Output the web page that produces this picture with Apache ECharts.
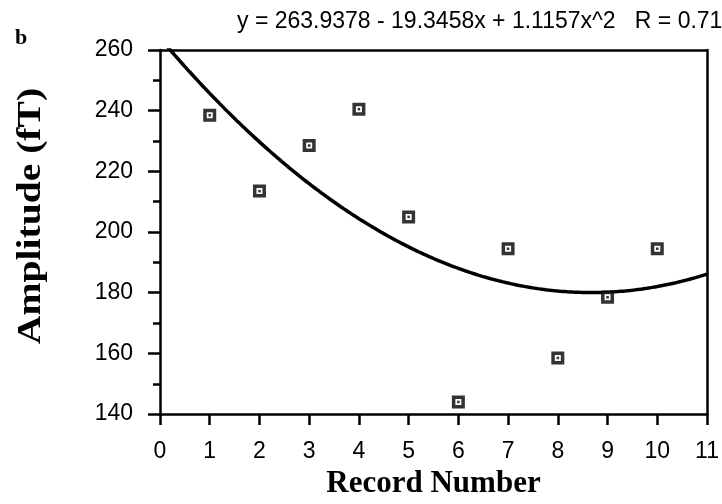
<!DOCTYPE html>
<html>
<head>
<meta charset="utf-8">
<script src="https://cdn.jsdelivr.net/npm/echarts@6/dist/echarts.min.js"></script>
<style>
  html, body { margin: 0; padding: 0; background: #fff; width: 100%; height: 100%; overflow: hidden; }
  #chart { width: 100vw; height: 100vh; }
</style>
</head>
<body>
<div id="chart"></div>
<script>
// Record numbers and measured amplitudes (fT)
const recordNumbers = [1, 2, 3, 4, 5, 6, 7, 8, 9, 10];
const amplitudes = [238.5, 213.5, 228.5, 240.5, 205, 144, 194.5, 158.5, 178.5, 194.5];

// Quadratic fit coefficients (c0 + c1*x + c2*x^2) and correlation
const fitCoefficients = [263.9378, -19.3458, 1.1157];
const fitR = 0.71;

// Axis settings
const xTicks = [0, 1, 2, 3, 4, 5, 6, 7, 8, 9, 10, 11];
const yTicks = [140, 160, 180, 200, 220, 240, 260];

const [c0, c1, c2] = fitCoefficients;
const fitLabel = 'y = ' + c0.toFixed(4) + ' - ' + Math.abs(c1).toFixed(4) + 'x + ' +
  c2.toFixed(4) + 'x^2   R = ' + fitR.toFixed(2);

// Sample the fitted curve across the x range
const fitCurve = [];
const xMin = xTicks[0], xMax = xTicks[xTicks.length - 1];
for (let i = 0; i <= 220; i++) {
  const x = xMin + (xMax - xMin) * i / 220;
  fitCurve.push([x, c0 + c1 * x + c2 * x * x]);
}

const points = recordNumbers.map((r, i) => [r, amplitudes[i]]);

const sans = 'Liberation Sans';
const serif = 'Liberation Serif';
const ink = '#000';

const chart = echarts.init(document.getElementById('chart'), null, { renderer: 'canvas' });
// layout is laid out on a 722 x 504 frame and scaled to the actual canvas
const W = chart.getWidth(), H = chart.getHeight();
const sx = v => v * W / 722;
const sy = v => v * H / 504;

chart.setOption({
  animation: false,
  backgroundColor: '#fff',
  title: [
    {
      text: fitLabel, left: sx(232), top: sy(5),
      textStyle: { fontFamily: sans, fontSize: 23, fontWeight: 'normal', color: ink }
    },
    {
      text: 'b', left: sx(10), top: sy(22),
      textStyle: { fontFamily: serif, fontSize: 22, fontWeight: 'bold', color: ink }
    }
  ],
  graphic: [
    {
      type: 'text', x: sx(31), y: sy(216), rotation: Math.PI / 2, scaleX: 1.2,
      style: {
        text: 'Amplitude (fT)', fill: ink, align: 'center', verticalAlign: 'middle',
        font: 'bold 33px "Liberation Serif"'
      }
    }
  ],
  grid: { left: sx(160), right: sx(15), top: sy(50), bottom: sy(83), containLabel: false },
  xAxis: [
    {
      type: 'value', min: xMin, max: xMax, interval: 1,
      name: 'Record Number', nameLocation: 'middle', nameGap: sy(49),
      nameTextStyle: { fontFamily: serif, fontSize: 31, fontWeight: 'bold', color: ink },
      axisLine: { show: true, onZero: false, lineStyle: { color: ink, width: 2.5 } },
      axisTick: { show: true, length: 11, lineStyle: { color: ink, width: 2.5 } },
      axisLabel: { fontFamily: sans, fontSize: 23, color: ink, margin: sy(26) },
      splitLine: { show: false }
    },
    {
      type: 'value', position: 'top', min: xMin, max: xMax, interval: 1,
      axisLine: { show: true, onZero: false, lineStyle: { color: ink, width: 2.5 } },
      axisTick: { show: false }, axisLabel: { show: false }, splitLine: { show: false }
    }
  ],
  yAxis: [
    {
      type: 'value', min: yTicks[0], max: yTicks[yTicks.length - 1], interval: 20,
      axisLine: { show: true, onZero: false, lineStyle: { color: ink, width: 2.5 } },
      axisTick: { show: true, length: 12, lineStyle: { color: ink, width: 2.5 } },
      minorTick: { show: true, splitNumber: 2, length: 7, lineStyle: { color: ink, width: 2.5 } },
      axisLabel: { fontFamily: sans, fontSize: 23, color: ink, margin: 27 },
      splitLine: { show: false }
    },
    {
      type: 'value', position: 'right', min: yTicks[0], max: yTicks[yTicks.length - 1], interval: 20,
      axisLine: { show: true, onZero: false, lineStyle: { color: ink, width: 2.5 } },
      axisTick: { show: false }, axisLabel: { show: false }, splitLine: { show: false }
    }
  ],
  series: [
    {
      type: 'line', data: fitCurve, showSymbol: false, clip: true,
      lineStyle: { color: ink, width: 3.5 }, z: 2
    },
    {
      type: 'scatter', data: points, symbol: 'rect', symbolSize: 9.5,
      itemStyle: { color: '#fff', borderColor: ink, borderWidth: 3.5 }, z: 3
    },
    {
      type: 'scatter', data: points, symbol: 'rect', symbolSize: 2.5,
      itemStyle: { color: ink }, z: 4
    }
  ]
});
</script>
</body>
</html>
